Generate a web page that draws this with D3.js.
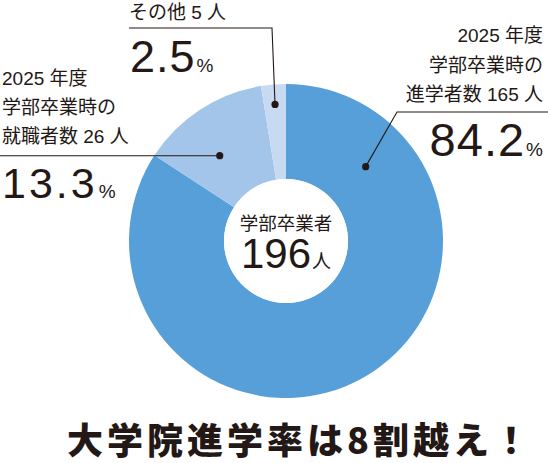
<!DOCTYPE html>
<html><head><meta charset="utf-8">
<script src="https://cdn.jsdelivr.net/npm/d3@7"></script>
<style>
html,body{margin:0;padding:0;background:#fff;}
svg{display:block;}
.jp{font-family:"Liberation Sans","Noto Sans CJK JP","Noto Sans",sans-serif;fill:#231815;}
.tt{font-family:"Noto Sans CJK JP","Noto Sans",sans-serif;fill:#231815;}
.num{font-family:"Liberation Sans",Arial,sans-serif;fill:#231815;}
</style>
</head><body>
<svg id="chart" width="548" height="463"></svg>
<script>
// data
const categories = ["進学者", "就職者", "その他"];
const counts = [165, 26, 5];
const percents = ["84.2", "13.3", "2.5"];
const labelLines = [
  ["2025 年度", "学部卒業時の", "進学者数 165 人"],
  ["2025 年度", "学部卒業時の", "就職者数 26 人"],
  ["その他 5 人"]
];
const totalLabel = "学部卒業者";
const totalValue = "196";
const title = "大学院進学率は8割越え！";
const colors = ["#579fd8", "#a4c5ea", "#c7daf2"];

// layout
const W = 548, H = 463;
const cx = 286, cy = 241, R = 157, r0 = 62;
const svg = d3.select("#chart");
const g = svg.append("g").attr("transform", `translate(${cx},${cy})`);

const pie = d3.pie().sort(null).value(d => d)(counts);
const arc = d3.arc().innerRadius(r0).outerRadius(R);
const color = d3.scaleOrdinal().domain(categories).range(colors);

g.selectAll("path.slice").data(pie).join("path")
  .attr("class", "slice")
  .attr("d", arc)
  .attr("fill", (d, i) => color(categories[i]));

// center
g.append("circle").attr("r", r0).attr("fill", "#fff");
g.append("text").attr("class", "jp").attr("text-anchor", "middle")
  .attr("x", 0).attr("y", -11).attr("font-size", 18.5).text(totalLabel);
const ct = g.append("text").attr("text-anchor", "middle").attr("x", 0).attr("y", 27);
ct.append("tspan").attr("class", "num").attr("font-size", 42).text(totalValue);
ct.append("tspan").attr("class", "jp").attr("font-size", 19).attr("dx", 1).text("人");

// leader dots: position along each slice (fraction of slice, radius)
const dotPos = [
  {frac: 0.155, rad: 109},
  {frac: 0.40, rad: 108},
  {frac: 0.50, rad: 137}
];
function dotXY(i) {
  const p = pie[i];
  const a = p.startAngle + (p.endAngle - p.startAngle) * dotPos[i].frac;
  return [cx + dotPos[i].rad * Math.sin(a), cy - dotPos[i].rad * Math.cos(a)];
}
const dots = pie.map((p, i) => dotXY(i));

// leader lines
const line = d3.line();
const leaders = [
  [dots[0], [397, 112], [548, 112]],
  [dots[1], [0, dots[1][1]]],
  [dots[2], [272, 28], [129, 28]]
];
svg.selectAll("path.leader").data(leaders).join("path")
  .attr("class", "leader")
  .attr("d", d => line(d))
  .attr("fill", "none").attr("stroke", "#231815").attr("stroke-width", 1.1);
svg.selectAll("circle.dot").data(dots).join("circle")
  .attr("class", "dot")
  .attr("cx", d => d[0]).attr("cy", d => d[1]).attr("r", 3.6)
  .attr("fill", "#231815");

// labels
const labelCfg = [
  {x: 543, y: 42, anchor: "end", lh: 29.5, px: 543, py: 156, size: 47, ls: 1},
  {x: 2, y: 85, anchor: "start", lh: 29, px: 2, py: 198, size: 43, ls: 3},
  {x: 129, y: 19, anchor: "start", lh: 29, px: 130, py: 72, size: 45, ls: 1}
];
labelLines.forEach((lines, i) => {
  const c = labelCfg[i];
  const t = svg.append("text").attr("class", "jp").attr("font-size", 19)
    .attr("text-anchor", c.anchor);
  lines.forEach((s, k) => {
    t.append("tspan").attr("x", c.x).attr("y", c.y + k * c.lh).text(s);
  });
  const pt = svg.append("text").attr("text-anchor", c.anchor)
    .attr("x", c.px).attr("y", c.py);
  pt.append("tspan").attr("class", "num").attr("font-size", c.size)
    .attr("letter-spacing", c.ls).text(percents[i]);
  pt.append("tspan").attr("class", "num").attr("font-size", 19).attr("dx", 1).text("%");
});

// title
svg.append("text").attr("class", "tt")
  .attr("x", 300).attr("y", 454)
  .attr("text-anchor", "middle")
  .attr("font-size", 36).attr("font-weight", 900)
  .attr("letter-spacing", 4)
  .text(title);
</script>
</body></html>
